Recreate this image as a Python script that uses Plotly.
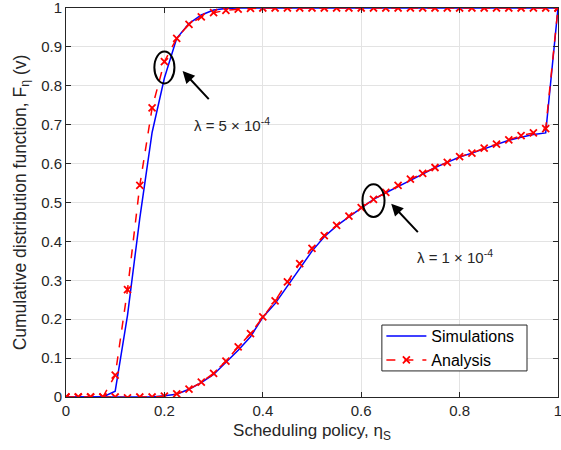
import plotly.graph_objects as go

# x grid (scheduling policy)
eta = [round(i * 0.025, 3) for i in range(41)]

# lambda = 5e-4
sim_5 = [0, 0, 0, 0, 0.015, 0.21, 0.46, 0.68, 0.82, 0.922, 0.96, 0.982, 0.995, 0.999, 1,
         1, 1, 1, 1, 1, 1, 1, 1, 1, 1, 1, 1, 1, 1, 1, 1, 1, 1, 1, 1, 1, 1, 1, 1, 1, 1]
ana_5 = [0, 0, 0, 0, 0.056, 0.276, 0.544, 0.743, 0.862, 0.922, 0.958, 0.977, 0.988, 0.994, 0.997,
         0.999, 1, 1, 1, 1, 1, 1, 1, 1, 1, 1, 1, 1, 1, 1, 1, 1, 1, 1, 1, 1, 1, 1, 1, 1, 1]

# lambda = 1e-4
sim_1 = [0, 0, 0, 0, 0, 0, 0, 0, 0.003, 0.007, 0.02, 0.037, 0.058, 0.088, 0.12, 0.155, 0.205,
         0.24, 0.285, 0.33, 0.375, 0.412, 0.44, 0.463, 0.486, 0.508, 0.525, 0.542, 0.557, 0.573,
         0.59, 0.603, 0.617, 0.627, 0.638, 0.649, 0.66, 0.668, 0.675, 0.679, 1]
ana_1 = [0, 0, 0, 0, 0, -0.002, 0, 0, 0.002, 0.008, 0.02, 0.038, 0.061, 0.092, 0.129, 0.163, 0.206,
         0.247, 0.296, 0.343, 0.382, 0.415, 0.441, 0.465, 0.487, 0.508, 0.526, 0.544, 0.56, 0.575,
         0.59, 0.603, 0.618, 0.627, 0.64, 0.65, 0.661, 0.672, 0.679, 0.69, 1]

x_ticks = [0, 0.2, 0.4, 0.6, 0.8, 1]
y_ticks = [0, 0.1, 0.2, 0.3, 0.4, 0.5, 0.6, 0.7, 0.8, 0.9, 1]

# annotation anchors (data coords)
ell1 = dict(cx=0.2, cy=0.847, rx=0.0204, ry=0.041)
ell2 = dict(cx=0.625, cy=0.505, rx=0.0224, ry=0.042)
arrow1 = dict(tip=(0.237, 0.838), tail=(0.293, 0.762))
arrow2 = dict(tip=(0.661, 0.497), tail=(0.718, 0.42))
label1 = dict(x=0.338, y=0.70, text="λ = 5 × 10<sup>-4</sup>")
label2 = dict(x=0.79, y=0.362, text="λ = 1 × 10<sup>-4</sup>")

FONT = "Liberation Sans, Arial, sans-serif"
TXT = "#262626"
BLUE = "#0000ff"
RED = "#ff0000"

fig = go.Figure()
fig.add_trace(go.Scatter(x=eta, y=sim_5, mode="lines", name="Simulations",
                         line=dict(color=BLUE, width=1.5)))
fig.add_trace(go.Scatter(x=eta, y=ana_5, mode="lines+markers", name="Analysis",
                         line=dict(color=RED, width=1.5, dash="dash"),
                         marker=dict(symbol="x-thin", size=7, line=dict(color=RED, width=1.8))))
fig.add_trace(go.Scatter(x=eta, y=sim_1, mode="lines", showlegend=False,
                         line=dict(color=BLUE, width=1.5)))
fig.add_trace(go.Scatter(x=eta, y=ana_1, mode="lines+markers", showlegend=False,
                         line=dict(color=RED, width=1.5, dash="dash"),
                         marker=dict(symbol="x-thin", size=7, line=dict(color=RED, width=1.8))))

for e in (ell1, ell2):
    fig.add_shape(type="circle", xref="x", yref="y",
                  x0=e["cx"] - e["rx"], x1=e["cx"] + e["rx"],
                  y0=e["cy"] - e["ry"], y1=e["cy"] + e["ry"],
                  line=dict(color="black", width=2))

# legend frame (MATLAB style box)
fig.add_shape(type="rect", xref="paper", yref="paper", x0=0.642, x1=0.937, y0=0.067, y1=0.185,
              line=dict(color="#262626", width=1), fillcolor="white", layer="above")

for a in (arrow1, arrow2):
    fig.add_annotation(x=a["tip"][0], y=a["tip"][1], ax=a["tail"][0], ay=a["tail"][1],
                       axref="x", ayref="y", xref="x", yref="y", text="",
                       showarrow=True, arrowhead=2, arrowsize=1.2, arrowwidth=2,
                       arrowcolor="black")

for l in (label1, label2):
    fig.add_annotation(x=l["x"], y=l["y"], xref="x", yref="y", text=l["text"],
                       showarrow=False, font=dict(family=FONT, size=15, color=TXT))

axis_common = dict(showgrid=True, gridcolor="#e3e3e3", gridwidth=1,
                   showline=True, linecolor="#262626", linewidth=1, mirror="ticks",
                   ticks="inside", ticklen=5, tickcolor="#262626",
                   tickfont=dict(family=FONT, size=15, color=TXT),
                   ticklabeloverflow="allow", automargin=False,
                   zeroline=False, layer="above traces")

fig.update_xaxes(range=[0, 1], tickvals=x_ticks, ticktext=[f"{v:g}" for v in x_ticks],
                 title=dict(text="Scheduling policy, η<sub>S</sub>",
                            font=dict(family=FONT, size=17, color=TXT), standoff=6),
                 **axis_common)
fig.update_yaxes(range=[0, 1], tickvals=y_ticks, ticktext=[f"{v:g}" for v in y_ticks],
                 title=dict(text="Cumulative distribution function, F<sub>η</sub> (v)",
                            font=dict(family=FONT, size=17.5, color=TXT), standoff=10),
                 **axis_common)

fig.update_layout(
    width=561, height=450,
    margin=dict(l=66, r=3, t=8, b=53),
    plot_bgcolor="white", paper_bgcolor="white",
    font=dict(family=FONT, color=TXT),
    legend=dict(x=0.641, y=0.2, xanchor="left", yanchor="top",
                bgcolor="rgba(0,0,0,0)", borderwidth=0,
                font=dict(family=FONT, size=16, color="black"),
                itemwidth=40, tracegroupgap=0),
)

fig.write_html("out.html", config={"displayModeBar": False},
               post_script="document.body.style.margin='0px';document.body.style.overflow='hidden';")
